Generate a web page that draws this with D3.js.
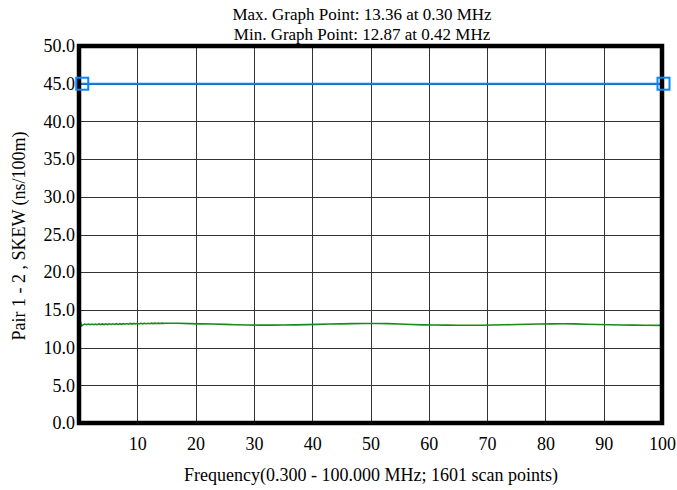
<!DOCTYPE html>
<html><head><meta charset="utf-8">
<script src="https://cdn.jsdelivr.net/npm/d3@7"></script>
<style>body{margin:0;background:#fff}svg{display:block}</style>
</head><body>
<script>
const titleLines = ["Max. Graph Point: 13.36 at 0.30 MHz", "Min. Graph Point: 12.87 at 0.42 MHz"];
const xTitle = "Frequency(0.300 - 100.000 MHz; 1601 scan points)";
const yTitle = "Pair 1 - 2 , SKEW (ns/100m)";
const xTicks = [10,20,30,40,50,60,70,80,90,100];
const yTicks = [0,5,10,15,20,25,30,35,40,45,50];
const freqMHz = [0.30,0.42,0.7,1.0,1.3,1.6,1.9,2.2,2.5,2.8,3.1,3.4,3.7,4.0,4.3,4.6,4.9,5.2,5.5,5.8,6.1,6.4,6.7,7.0,7.3,7.6,7.9,8.2,8.5,8.8,9.1,9.4,9.7,10.0,10.3,10.6,10.9,11.2,11.5,11.8,12.1,12.4,12.7,13.0,13.3,13.6,13.9,14.2,14.5,14.8,15.5,17,19,21,23,25,27,29,31,33,35,37,39,41,43,45,47,49,51,53,55,57,59,61,63,65,67,69,71,73,75,77,79,81,83,85,87,89,91,93,95,97,100];
const skew = [13.36,12.87,13.02,13.12,13.03,13.13,13.03,13.12,13.04,13.13,13.04,13.14,13.05,13.14,13.05,13.15,13.06,13.15,13.07,13.16,13.07,13.17,13.08,13.17,13.09,13.18,13.10,13.19,13.11,13.20,13.12,13.21,13.13,13.22,13.14,13.22,13.15,13.23,13.16,13.23,13.17,13.24,13.18,13.24,13.19,13.24,13.20,13.24,13.21,13.23,13.22,13.22,13.18,13.15,13.12,13.08,13.03,13.00,12.98,12.98,13.00,13.02,13.05,13.08,13.12,13.15,13.18,13.20,13.20,13.18,13.12,13.06,13.02,13.00,12.98,12.97,12.96,12.97,13.00,13.03,13.06,13.10,13.13,13.15,13.16,13.14,13.10,13.06,13.03,13.00,12.98,12.96,12.95];
const limitFreq = [0.30, 100];
const limitVal = [45, 45];

const FONT = "'Times New Roman', 'Liberation Serif', 'DejaVu Serif', serif";
const W = 677, H = 490;
const L = 79, R = 662, T = 46, B = 423;
const svg = d3.select("body").append("svg").attr("width", W).attr("height", H)
  .attr("font-family", FONT);
const x = d3.scaleLinear().domain([0, 100]).range([L, R]);
const y = d3.scaleLinear().domain([0, 50]).range([B, T]);

// grid
const g = svg.append("g");
g.selectAll("line.vx").data(xTicks.slice(0, -1)).enter().append("line")
  .attr("x1", d => Math.round(x(d)) + 0.5).attr("x2", d => Math.round(x(d)) + 0.5)
  .attr("y1", T).attr("y2", B).attr("stroke", "#333").attr("stroke-width", 1);
g.selectAll("line.hy").data(yTicks.slice(1, -1)).enter().append("line")
  .attr("y1", d => Math.round(y(d)) + 0.5).attr("y2", d => Math.round(y(d)) + 0.5)
  .attr("x1", L).attr("x2", R).attr("stroke", "#333").attr("stroke-width", 1);

// axes labels via d3 axes
const xAxis = svg.append("g").attr("transform", `translate(0,${B})`)
  .call(d3.axisBottom(x).tickValues(xTicks).tickSize(0).tickPadding(14).tickFormat(d3.format("d")));
xAxis.attr("font-family", FONT).attr("font-size", 18);
xAxis.select(".domain").remove();
xAxis.selectAll("text").attr("fill", "#000");
const yAxis = svg.append("g").attr("transform", `translate(${L - 2},0)`)
  .call(d3.axisLeft(y).tickValues(yTicks).tickSize(0).tickPadding(2).tickFormat(d3.format(".1f")));
yAxis.attr("font-family", FONT).attr("font-size", 18);
yAxis.select(".domain").remove();
yAxis.selectAll("text").attr("fill", "#000");

// data line
const line = d3.line().x((d, i) => x(freqMHz[i])).y(d => y(d));
svg.append("path").datum(skew).attr("d", line).attr("fill", "none")
  .attr("stroke", "#1a8a1a").attr("stroke-width", 1.6);

// limit line
const lim = limitVal.map((v, i) => ({f: limitFreq[i], v}));
svg.append("path").datum(lim).attr("d", d3.line().x(d => x(d.f)).y(d => y(d.v)))
  .attr("fill", "none").attr("stroke", "#0a84ff").attr("stroke-width", 2);

// frame
svg.append("rect").attr("x", L).attr("y", T).attr("width", R - L).attr("height", B - T)
  .attr("fill", "none").attr("stroke", "#000").attr("stroke-width", 4.5);

// markers
svg.selectAll("rect.m").data(lim).enter().append("rect")
  .attr("x", d => x(d.f) - 4.5).attr("y", d => y(d.v) - 6).attr("width", 12).attr("height", 12)
  .attr("fill", "none").attr("stroke", "#0a84ff").attr("stroke-width", 2);

// titles
svg.selectAll("text.t").data(titleLines).enter().append("text")
  .attr("x", 362).attr("y", (d, i) => 20 + i * 20).attr("text-anchor", "middle")
  .attr("font-size", 17).text(d => d);
svg.append("text").attr("x", 371).attr("y", 481).attr("text-anchor", "middle")
  .attr("font-size", 18).text(xTitle);
svg.append("text").attr("transform", "translate(25,236) rotate(-90)").attr("text-anchor", "middle")
  .attr("font-size", 18).text(yTitle);
</script>
</body></html>
